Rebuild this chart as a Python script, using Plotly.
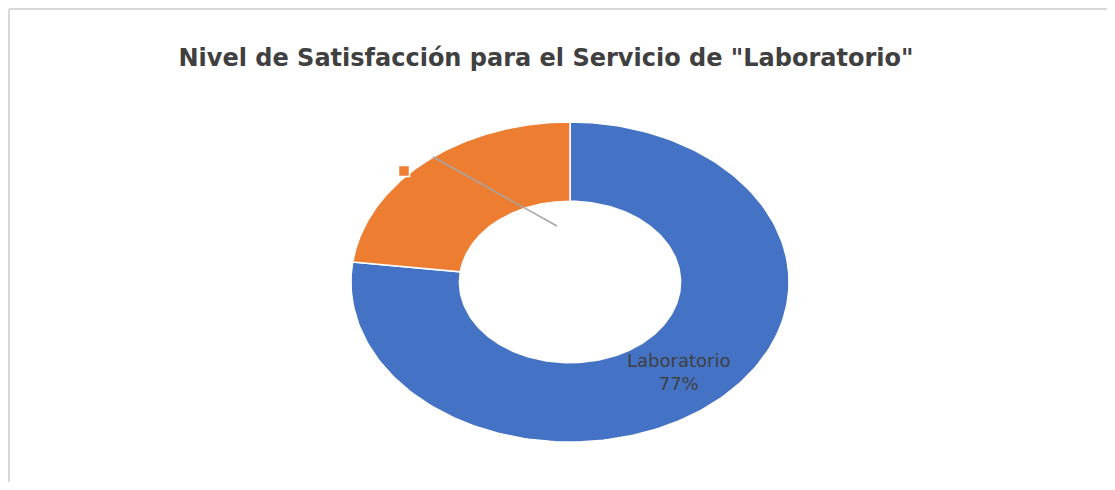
import numpy as np
import plotly.graph_objects as go

# data
categories = ["Laboratorio", ""]
values = [77, 23]
colors = ["#4472C4", "#ED7D31"]
title_text = 'Nivel de Satisfacción para el Servicio de "Laboratorio"'

PW, PH = 1115, 490                 # page size
OFF = 8                            # page body margin
W, H = PW - 2 * OFF, PH - 2 * OFF  # figure size so the page does not overflow
cx, cy = 570, 282                  # donut centre (page pixels)
rx, ry = 219, 160                  # outer radii (chart is stretched horizontally)
hole = 0.505

fig = go.Figure()

total = sum(values)
start = 0.0
for name, val, col in zip(categories, values, colors):
    frac0 = start / total
    frac1 = (start + val) / total
    t = np.linspace(frac0, frac1, 200)
    ang = np.pi / 2 - 2 * np.pi * t          # clockwise from 12 o'clock
    xo = cx + rx * np.cos(ang)
    yo = cy - ry * np.sin(ang)
    xi = cx + rx * hole * np.cos(ang[::-1])
    yi = cy - ry * hole * np.sin(ang[::-1])
    xs = np.concatenate([xo, xi, xo[:1]])
    ys = np.concatenate([yo, yi, yo[:1]])
    fig.add_trace(go.Scatter(
        x=xs, y=ys, mode="lines", fill="toself",
        fillcolor=col, line=dict(color="white", width=1.5),
        hoverinfo="skip", name=name, showlegend=False
    ))
    start += val

# leader line + label key for the small slice
fig.add_trace(go.Scatter(
    x=[557, 433], y=[226, 157], mode="lines",
    line=dict(color="#A6A6A6", width=1.5), hoverinfo="skip", showlegend=False
))
fig.add_trace(go.Scatter(
    x=[404], y=[171], mode="markers",
    marker=dict(symbol="square", size=11, color=colors[1], line=dict(color="white", width=1.5)),
    hoverinfo="skip", showlegend=False
))

# data label of the big slice
fig.add_annotation(
    x=678, y=372, xref="x", yref="y",
    text=f"{categories[0]}<br>{values[0]}%",
    showarrow=False, font=dict(family="DejaVu Sans", size=18, color="#404040")
)

# chart frame (only top and left edges visible)
fig.add_shape(type="line", x0=9, x1=PW, y0=9, y1=9, line=dict(color="#D9D9D9", width=2))
fig.add_shape(type="line", x0=9, x1=9, y0=9, y1=PH, line=dict(color="#D9D9D9", width=2))

fig.update_layout(
    width=W, height=H,
    margin=dict(l=0, r=0, t=0, b=0),
    paper_bgcolor="white", plot_bgcolor="white",
    title=dict(
        text=title_text, x=(546 - OFF) / W, xanchor="center", y=1 - (58 - OFF) / H, yanchor="middle",
        font=dict(family="DejaVu Sans", size=24, color="#404040", weight="bold")
    ),
    xaxis=dict(range=[OFF, OFF + W], visible=False, fixedrange=True),
    yaxis=dict(range=[OFF + H, OFF], visible=False, fixedrange=True),
)

fig.write_html("out.html")
